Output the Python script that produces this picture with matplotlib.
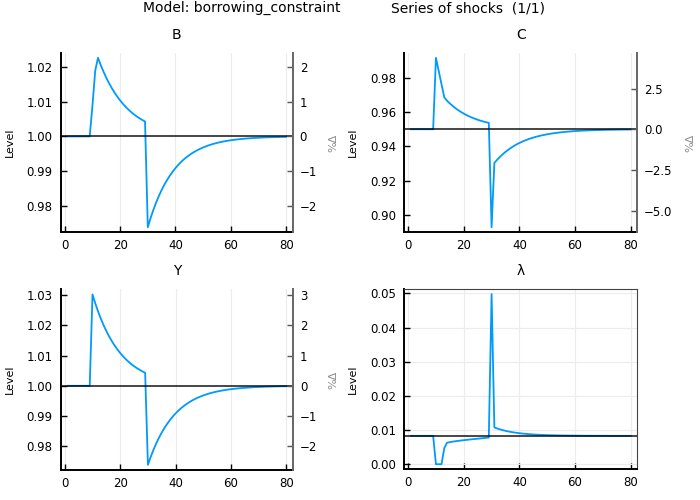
import numpy as np
import matplotlib
matplotlib.use("Agg")
import matplotlib.pyplot as plt
from matplotlib.ticker import MultipleLocator, FormatStrFormatter, FuncFormatter

# periods 1..80
periods = list(range(1, 81))

B = [1.0, 1.0, 1.0, 1.0, 1.0, 1.0, 1.0, 1.0, 1.0,
     1.0089, 1.0190, 1.0227, 1.02058, 1.01867, 1.01693, 1.01535, 1.01392, 1.01262, 1.01145, 1.01038,
     1.00941, 1.00854, 1.00774, 1.00702, 1.00637, 1.00577, 1.00524, 1.00475, 1.0043,
     0.97378, 0.9764, 0.97876, 0.98089, 0.9828, 0.98452, 0.98607, 0.98746, 0.98871, 0.98984, 0.99086,
     0.99177, 0.9926, 0.99334, 0.994, 0.9946, 0.99514, 0.99563, 0.99607, 0.99646, 0.99681,
     0.99713, 0.99742, 0.99768, 0.99791, 0.99812, 0.99831, 0.99848, 0.99863, 0.99877, 0.99889,
     0.999, 0.9991, 0.99919, 0.99927, 0.99934, 0.99941, 0.99947, 0.99952, 0.99957, 0.99961,
     0.99965, 0.99969, 0.99972, 0.99975, 0.99977, 0.99979, 0.99981, 0.99983, 0.99985, 0.99987]

C = [0.95, 0.95, 0.95, 0.95, 0.95, 0.95, 0.95, 0.95, 0.95,
     0.9917, 0.9840, 0.9763, 0.9686, 0.9666, 0.96502, 0.96359, 0.9623, 0.96113, 0.96008, 0.95912,
     0.95825, 0.95747, 0.95676, 0.95612, 0.95553, 0.95501, 0.95453, 0.9541, 0.95371,
     0.8928, 0.9303, 0.93217, 0.93387, 0.9354, 0.93679, 0.93804, 0.93918, 0.94021, 0.94114, 0.94198,
     0.94274, 0.94343, 0.94405, 0.94462, 0.94513, 0.94559, 0.94601, 0.94639, 0.94673, 0.94704,
     0.94732, 0.94758, 0.94781, 0.94802, 0.94821, 0.94838, 0.94853, 0.94867, 0.9488, 0.94891,
     0.94901, 0.94911, 0.94919, 0.94927, 0.94934, 0.9494, 0.94946, 0.94951, 0.94956, 0.9496,
     0.94964, 0.94967, 0.9497, 0.94973, 0.94976, 0.94978, 0.9498, 0.94982, 0.94984, 0.94985]

Y = [1.0, 1.0, 1.0, 1.0, 1.0, 1.0, 1.0, 1.0, 1.0,
     1.0302, 1.02726, 1.0246, 1.0222, 1.02003, 1.01808, 1.01632, 1.01473, 1.01329, 1.012, 1.01083,
     1.00977, 1.00882, 1.00796, 1.00718, 1.00648, 1.00585, 1.00528, 1.00477, 1.0043,
     0.97387, 0.97648, 0.97883, 0.98095, 0.98286, 0.98457, 0.98611, 0.9875, 0.98875, 0.98988, 0.99089,
     0.9918, 0.99262, 0.99336, 0.99402, 0.99462, 0.99516, 0.99564, 0.99608, 0.99647, 0.99682,
     0.99714, 0.99743, 0.99768, 0.99792, 0.99812, 0.99831, 0.99848, 0.99863, 0.99877, 0.99889,
     0.999, 0.9991, 0.99919, 0.99927, 0.99934, 0.9994, 0.99946, 0.99952, 0.99957, 0.99961,
     0.99965, 0.99968, 0.99972, 0.99974, 0.99977, 0.99979, 0.99981, 0.99983, 0.99985, 0.99987]

lam = [0.0083, 0.0083, 0.0083, 0.0083, 0.0083, 0.0083, 0.0083, 0.0083, 0.0083,
       0.0, 0.0, 0.0, 0.0047, 0.0063, 0.00645, 0.0066, 0.00672, 0.00683, 0.00693, 0.00703,
       0.00712, 0.00721, 0.0073, 0.00738, 0.00746, 0.00755, 0.00763, 0.00772, 0.0078,
       0.0498, 0.01075, 0.01046, 0.0102, 0.00997, 0.00977, 0.00959, 0.00944, 0.0093, 0.00918, 0.00908,
       0.00898, 0.0089, 0.00883, 0.00877, 0.00871, 0.00866, 0.00862, 0.00858, 0.00854, 0.00851,
       0.00849, 0.00847, 0.00845, 0.00843, 0.00841, 0.0084, 0.00839, 0.00838, 0.00837, 0.00836,
       0.00835, 0.00834, 0.00834, 0.00833, 0.00833, 0.00832, 0.00832, 0.00832, 0.00831, 0.00831,
       0.00831, 0.00831, 0.0083, 0.0083, 0.0083, 0.0083, 0.0083, 0.0083, 0.0083, 0.0083]

names = ["B", "C", "Y", "λ"]
series = [B, C, Y, lam]
steady = [1.0, 0.95, 1.0, 0.0083]
show_pct = [True, True, True, False]

blue = "#009AFA"
plt.rcParams["font.family"] = ["DejaVu Sans"]

fig = plt.figure(figsize=(7, 5), dpi=100)

# axes boxes in pixels (left, top, right, bottom)
boxes = [(61, 52.7, 292.7, 232.3), (404.3, 52.7, 637.3, 232.3),
         (61, 289.3, 293, 470), (404.3, 289, 637.3, 469.3)]
left_step = [0.01, 0.02, 0.01, 0.01]
right_step = [1, 2.5, 1, None]
right_dec = [0, 1, 0, None]


def pct_fmt(dec):
    return FuncFormatter(lambda v, p: f"{v:.{dec}f}".replace("-", "\u2212"))


for i in range(4):
    l, t, r, b = boxes[i]
    ax = fig.add_axes([l / 700, 1 - b / 500, (r - l) / 700, (b - t) / 500])
    x = np.array(periods)
    y = np.array(series[i])
    ss = steady[i]

    ax.plot(x, y, color=blue, lw=1.3, zorder=3)
    ax.axhline(ss, color="black", lw=1.2, zorder=4, alpha=0.85)

    xm = (x.max() - x.min()) * 0.03
    ax.set_xlim(x.min() - xm, x.max() + xm)
    ym = (y.max() - y.min()) * 0.03
    ylo, yhi = y.min() - ym, y.max() + ym
    ax.set_ylim(ylo, yhi)

    ax.xaxis.set_major_locator(MultipleLocator(20))
    ax.yaxis.set_major_locator(MultipleLocator(left_step[i]))
    ax.yaxis.set_major_formatter(FormatStrFormatter("%.2f"))
    ax.tick_params(direction="in", length=4, width=1, labelsize=8.5, pad=6)
    ax.tick_params(axis="x", pad=5)

    ax.set_title(names[i], fontsize=10, pad=10)
    ax.set_ylabel("Level", fontsize=8)
    ax.yaxis.set_label_coords(-0.2, 0.5)

    if show_pct[i]:
        ax.grid(axis="x", color="#ececec", lw=0.8)
        ax.spines["top"].set_visible(False)
        ax.spines["right"].set_visible(False)
        ax2 = ax.twinx()
        ax2.set_ylim((ylo / ss - 1) * 100, (yhi / ss - 1) * 100)
        ax2.yaxis.set_major_locator(MultipleLocator(right_step[i]))
        ax2.yaxis.set_major_formatter(pct_fmt(right_dec[i]))
        ax2.tick_params(direction="in", length=4, width=1, labelsize=8.5, pad=5,
                        color="#555555")
        for s in ["top", "left", "bottom"]:
            ax2.spines[s].set_visible(False)
        ax2.spines["right"].set_color("#666666")
        ax2.spines["right"].set_linewidth(1.4)
        ax2.set_ylabel("%Δ", fontsize=8, color="#8c8c8c")
        ax2.yaxis.set_label_coords(1.152 if i != 1 else 1.208, 0.5)
    else:
        ax.grid(color="#ececec", lw=0.8)
        for s in ["top", "right"]:
            ax.spines[s].set_color("#444444")

    for s in ["left", "bottom"]:
        ax.spines[s].set_linewidth(1.4)

fig.text(143 / 700, 1 - 8 / 500, "Model: borrowing_constraint", fontsize=10,
         ha="left", va="center")
fig.text(391 / 700, 1 - 8 / 500, "Series of shocks  (1/1)", fontsize=10,
         ha="left", va="center")

fig.savefig("out.png", dpi=100)
